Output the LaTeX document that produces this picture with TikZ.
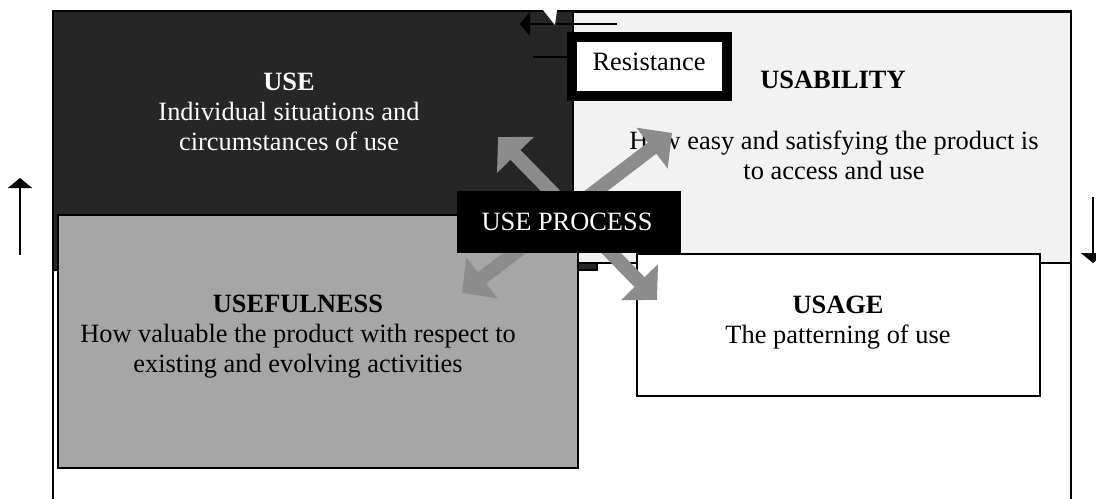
\documentclass[tikz,border=0pt]{standalone}
\usepackage{fontspec}
\setmainfont{Liberation Serif}
\usetikzlibrary{arrows.meta}

\definecolor{scuro}{RGB}{38,38,38}
\definecolor{chiaro}{RGB}{242,242,242}
\definecolor{grigio}{RGB}{166,166,166}
\definecolor{frgrigio}{RGB}{140,140,140}

\begin{document}
\begin{tikzpicture}[x=0.5pt,y=-0.5pt,
    blk/.style={draw,line width=1.2pt,inner sep=0pt},
    txt/.style={inner sep=0pt,anchor=base,align=center,font=\fontsize{13.2}{15}\selectfont},
    bigarr/.style={draw=frgrigio,line width=7pt,
      {Triangle[width=25pt,length=12.5pt]}-{Triangle[width=25pt,length=12.5pt]}},
    thinarr/.style={line width=1pt,-{Triangle[width=12pt,length=5pt]}}]
  \useasboundingbox (0,0) rectangle (1096,498);
  \clip (0,0) rectangle (1096,498);

  % ---- cornice e quadranti ---------------------------------------------------
  \node[blk,minimum width=509pt,minimum height=249.5pt] (frame) at (562,260.5) {};
  \node[blk,fill=scuro,minimum width=272pt,minimum height=129.5pt]  (use)    at (325,140.5) {};
  \node[blk,fill=chiaro,minimum width=249pt,minimum height=125.5pt] (usab)   at (822,137.5) {};
  \node[blk,fill=grigio,minimum width=260pt,minimum height=126.5pt] (useful) at (318,341.5) {};
  \node[blk,fill=white,minimum width=201.5pt,minimum height=71pt]   (usage)  at (838.5,325) {};

  % ---- testi (ancorati alla base dell'ultima riga) ---------------------------
  \node[txt,text=white] (usetxt) at (289,150)
    {\textbf{USE}\\Individual situations and\\circumstances of use};
  \node[txt] (usabtit) at (833,88) {\textbf{USABILITY}};
  \node[txt] (usabtxt) at (834,179)
    {How easy and satisfying the product is\\to access and use};
  \node[txt] (usefultxt) at (298,372)
    {\textbf{USEFULNESS}\\How valuable the product with respect to\\existing and evolving activities};
  \node[txt] (usagetxt) at (838,343) {\textbf{USAGE}\\The patterning of use};

  % ---- resistenza e frecce sottili -------------------------------------------
  \coordinate (s1) at (533,57);
  \draw[line width=1pt] (s1) -- (s1 -| use.east);
  \node[blk,line width=5pt,fill=white,minimum width=77.5pt,minimum height=29.5pt] (resist) at (649.5,66.5) {};
  \node[txt] (resisttxt) at (649,70) {Resistance};

  \coordinate (t1) at (617,24);
  \coordinate (t2) at (520,24);
  \draw[thinarr] (t1) -- (t2);
  \fill[white] (543,10) -- (557,10) -- (555,25) -- cycle;

  \coordinate (l1) at (20,255);
  \coordinate (l2) at (20,178);
  \draw[thinarr] (l1) -- (l2);
  \coordinate (r1) at (1093,197);
  \coordinate (r2) at (1093,263);
  \draw[thinarr] (r1) -- (r2);

  % ---- frecce grandi e processo ----------------------------------------------
  \coordinate (a1) at (498,137);
  \coordinate (a2) at (657,300);
  \coordinate (b1) at (672,133);
  \coordinate (b2) at (462,293);
  \draw[bigarr] (a1) -- (a2);
  \draw[bigarr] (b1) -- (b2);

  \node[fill=black,inner sep=0pt,minimum width=112pt,minimum height=31pt] (proc) at (569,222) {};
  \node[txt,text=white] (proctxt) at (567,230) {USE PROCESS};
\end{tikzpicture}
\end{document}
